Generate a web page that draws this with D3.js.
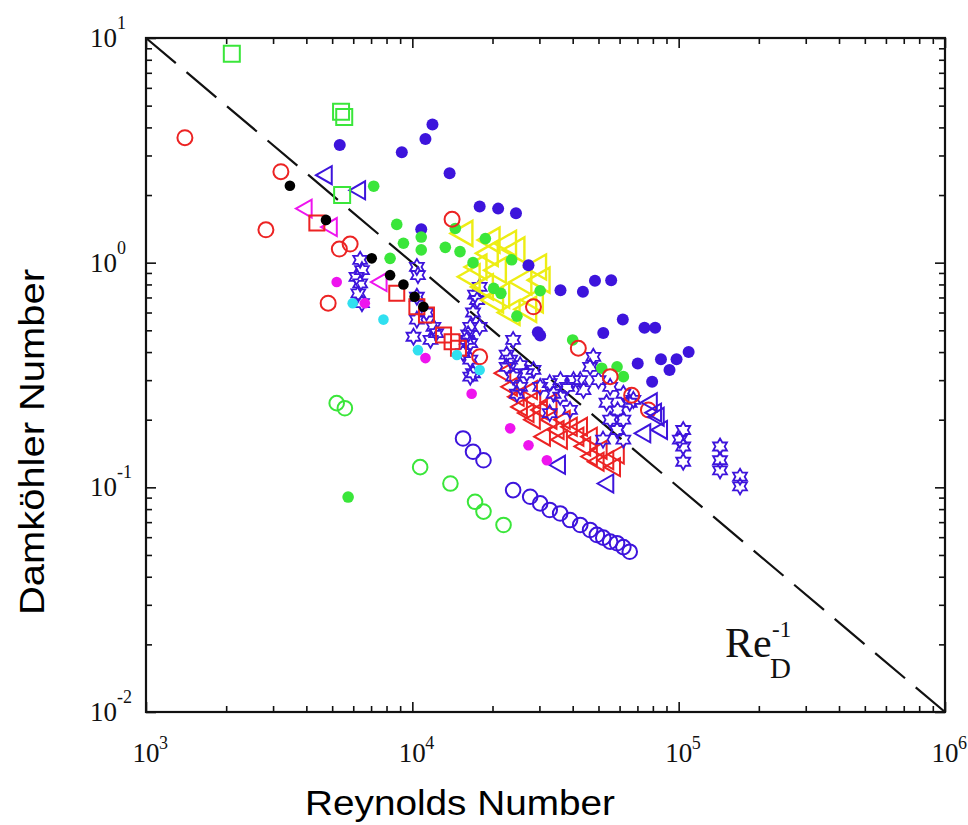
<!DOCTYPE html>
<html lang="en">
<head>
<meta charset="UTF-8">
<title>Damköhler vs Reynolds</title>
<script src="https://d3js.org/d3.v7.min.js"></script>
<style>
    body { margin: 0; background: #fff; }
    svg { display: block; }
    .serif { font-family: "Liberation Serif", "Times New Roman", serif; fill: #111; }
    .sans { font-family: "Liberation Sans", Arial, sans-serif; fill: #000; }
</style>
</head>
<body>
<svg id="chart" width="968" height="825"></svg>
<script>
// [Reynolds, Damkohler] pairs
const greenSquares = [[2100, 8.5], [5400, 4.7], [5550, 4.45], [5450, 2.0]];
const redSquares = [[4380, 1.5], [8740, 0.73], [10400, 0.636], [11300, 0.585], [13100, 0.476], [14100, 0.445], [14900, 0.416]];
const redCircles = [[1400, 3.6], [3210, 2.54], [2820, 1.4], [5320, 1.15], [5840, 1.21], [14100, 1.56], [4830, 0.66],
    [17900, 0.381], [28500, 0.636], [42000, 0.416], [55300, 0.311], [66600, 0.257], [77000, 0.221]];
const blackDots = [[3470, 2.2], [4740, 1.55], [7040, 1.045], [8250, 0.88], [9260, 0.8], [10200, 0.705], [11000, 0.636]];
const magentaTriangles = [[3950, 1.74], [4910, 1.44], [7550, 0.82]];
const blueTriangles = [[4700, 2.45], [6270, 2.1], [35300, 0.126], [53600, 0.104], [78100, 0.239], [82900, 0.206],
    [73800, 0.174], [85300, 0.18], [81000, 0.215]];
const magentaDots = [[5200, 0.82], [6630, 0.66], [11200, 0.376], [16700, 0.261], [23300, 0.183], [27300, 0.154], [32000, 0.132]];
const cyanDots = [[5970, 0.66], [7790, 0.558], [10500, 0.408], [14700, 0.388], [17900, 0.333]];
const greenDots = [[7160, 2.19], [8740, 1.48], [9260, 1.22], [8250, 1.045], [10800, 1.3], [10800, 1.14], [13300, 1.17],
    [15100, 1.12], [14500, 1.42], [18800, 1.28], [23600, 1.03], [16900, 1.0], [20200, 0.768], [21500, 0.73],
    [30200, 0.75], [24700, 0.578], [40000, 0.453], [51400, 0.339], [58700, 0.344], [62000, 0.311], [5740, 0.0905]];
const blueDots = [[5340, 3.34], [9130, 3.1], [11200, 3.55], [11900, 4.12], [13800, 2.5], [10800, 1.41], [17900, 1.78],
    [21000, 1.74], [24500, 1.66], [27300, 0.975], [36000, 0.754], [43700, 0.742], [48500, 0.83], [55800, 0.836],
    [30200, 0.474], [29600, 0.49], [52100, 0.486], [61700, 0.558], [74400, 0.513], [81600, 0.513], [70200, 0.356],
    [85800, 0.372], [98200, 0.372], [109000, 0.4], [92400, 0.333], [79500, 0.295]];
const yellowTriangles = [[15500, 1.35], [17500, 0.957], [19300, 1.1], [22600, 1.22], [24300, 1.14], [20700, 0.926],
    [25800, 0.82], [29300, 0.957], [30200, 0.836], [18500, 0.78], [20200, 0.682], [23300, 0.6], [26900, 0.62],
    [28500, 0.682], [16500, 0.865], [19600, 1.26], [21300, 0.716]];
const blueStars = [[6370, 1.03], [6470, 0.926], [6170, 0.865], [6370, 0.808], [6270, 0.73], [6470, 0.66],
    [10400, 0.957], [10500, 0.88], [10400, 0.705], [10400, 0.558], [11300, 0.6], [12000, 0.518], [11700, 0.453],
    [12300, 0.486], [10100, 0.468],
    [17900, 0.78], [17500, 0.682], [16900, 0.6], [16500, 0.518], [16000, 0.453], [15500, 0.396], [16500, 0.37],
    [16900, 0.322], [17900, 0.518], [16500, 0.438], [16500, 0.311], [17200, 0.72], [16200, 0.48],
    [23900, 0.453], [22600, 0.344], [23900, 0.311], [25400, 0.28], [23300, 0.37], [26900, 0.322], [24700, 0.261],
    [28500, 0.333], [30200, 0.28], [22600, 0.39], [25400, 0.35],
    [33900, 0.261], [38100, 0.28], [42700, 0.3], [46500, 0.344], [47800, 0.381], [32800, 0.291], [40300, 0.3],
    [43900, 0.271], [55300, 0.28], [53600, 0.238], [62000, 0.261], [65500, 0.238], [55300, 0.2], [58700, 0.18],
    [62000, 0.163], [62000, 0.2], [39100, 0.221], [35900, 0.253], [32800, 0.214], [67600, 0.245], [52000, 0.163],
    [36000, 0.3], [50000, 0.3], [59000, 0.22],
    [104000, 0.18], [104000, 0.152], [104000, 0.13], [101000, 0.163], [143000, 0.152], [143000, 0.132],
    [143000, 0.119], [170000, 0.1115], [170000, 0.101]];
const redTriangles = [[22000, 0.322], [24700, 0.253], [25400, 0.228], [26900, 0.214], [28500, 0.245], [30200, 0.221],
    [32800, 0.2], [34900, 0.18], [35900, 0.163], [39100, 0.186], [41400, 0.168], [43900, 0.152], [46500, 0.137],
    [49300, 0.13], [53600, 0.132], [56800, 0.123], [58700, 0.14], [50600, 0.147], [46500, 0.168], [42700, 0.186],
    [32800, 0.238], [27700, 0.271], [31000, 0.168], [36800, 0.2], [28400, 0.2], [23300, 0.28]];
const blueCircles = [[15500, 0.165], [16900, 0.144], [18500, 0.132], [23900, 0.0972], [27700, 0.0908], [30200, 0.0848],
    [32800, 0.0793], [35900, 0.0765], [39100, 0.0715], [42700, 0.068], [46500, 0.0646], [49300, 0.0614],
    [52100, 0.0597], [55300, 0.0573], [58700, 0.0564], [62000, 0.0542], [65500, 0.0517]];
const greenCircles = [[5200, 0.237], [5580, 0.225], [10700, 0.123], [13900, 0.104], [17200, 0.0862], [18500, 0.078], [22000, 0.068]];
const refLine = [[1e3, 10], [1e6, 0.01]];
const xDecades = [3, 4, 5, 6];
const yDecades = [-2, -1, 0, 1];

const svg = d3.select('#chart');
const x = d3.scaleLog().domain([1e3, 1e6]).range([146, 945]);
const y = d3.scaleLog().domain([1e-2, 1e1]).range([712, 38]);

const isMajor = d => Math.abs(Math.log10(d) - Math.round(Math.log10(d))) < 1e-6;

// inward ticks on all four sides
function ticks(axis, tr, major, minor, attr) {
    const g = svg.append('g').attr('transform', tr)
        .call(axis.tickSizeInner(major).tickSizeOuter(0).tickFormat(''));
    g.select('.domain').remove();
    g.selectAll('.tick line').attr(attr, d => isMajor(d) ? major : minor)
        .attr('stroke', '#111').attr('stroke-width', 1.6);
}
ticks(d3.axisBottom(x), 'translate(0,712)', -10, -6, 'y2');
ticks(d3.axisTop(x), 'translate(0,38)', 10, 6, 'y2');
ticks(d3.axisLeft(y), 'translate(146,0)', 10, 6, 'x2');
ticks(d3.axisRight(y), 'translate(945,0)', -10, -6, 'x2');

svg.append('rect').attr('x', 146).attr('y', 38).attr('width', 799).attr('height', 674)
    .attr('fill', 'none').attr('stroke', '#111').attr('stroke-width', 2.2);

// tick labels: 10 with superscript exponent
xDecades.forEach(p => {
    const px = x(Math.pow(10, p));
    svg.append('text').attr('class', 'serif').attr('x', px).attr('y', 762)
        .attr('text-anchor', 'middle').attr('font-size', 27).text('10');
    svg.append('text').attr('class', 'serif').attr('x', px + 13).attr('y', 749)
        .attr('font-size', 18).text(p);
});
yDecades.forEach(p => {
    const py = y(Math.pow(10, p));
    svg.append('text').attr('class', 'serif').attr('x', 117).attr('y', py + 9)
        .attr('text-anchor', 'end').attr('font-size', 27).text('10');
    svg.append('text').attr('class', 'serif').attr('x', 117).attr('y', py - 9)
        .attr('font-size', 18).text(p < 0 ? '-' + (-p) : p);
});

// axis titles
svg.append('text').attr('class', 'sans').attr('x', 305).attr('y', 815)
    .attr('font-size', 35).attr('textLength', 310).attr('lengthAdjust', 'spacingAndGlyphs')
    .text('Reynolds Number');
svg.append('text').attr('class', 'sans').attr('transform', 'translate(44,615) rotate(-90)')
    .attr('font-size', 35).attr('textLength', 346).attr('lengthAdjust', 'spacingAndGlyphs')
    .text('Damköhler Number');

// Re_D^-1 reference line
const line = d3.line().x(d => x(d[0])).y(d => y(d[1]));
svg.append('path').datum(refLine).attr('d', line)
    .attr('fill', 'none').attr('stroke', '#111').attr('stroke-width', 2.2)
    .attr('stroke-dasharray', '39,14');
svg.append('text').attr('class', 'serif').attr('x', 725).attr('y', 657).attr('font-size', 42).text('Re');
svg.append('text').attr('class', 'serif').attr('x', 772).attr('y', 637).attr('font-size', 23).text('-1');
svg.append('text').attr('class', 'serif').attr('x', 770).attr('y', 678).attr('font-size', 29).text('D');

// marker shapes
const leftTri = {
    draw(ctx, size) {
        const r = Math.sqrt(size) / 2;
        ctx.moveTo(-r, 0); ctx.lineTo(r * 0.75, -r); ctx.lineTo(r * 0.75, r); ctx.closePath();
    }
};
const hexagram = {
    draw(ctx, size) {
        const R = Math.sqrt(size) / 2, ri = R / Math.sqrt(3);
        for (let i = 0; i < 12; i++) {
            const a = -Math.PI / 2 + i * Math.PI / 6, rr = i % 2 ? ri : R;
            const px = rr * Math.cos(a), py = rr * Math.sin(a);
            i ? ctx.lineTo(px, py) : ctx.moveTo(px, py);
        }
        ctx.closePath();
    }
};
const square = {
    draw(ctx, size) { const s = Math.sqrt(size) / 2; ctx.rect(-s, -s, 2 * s, 2 * s); }
};

function openSymbols(data, type, size, color, sw) {
    svg.append('g').selectAll('path').data(data).join('path')
        .attr('transform', d => `translate(${x(d[0])},${y(d[1])})`)
        .attr('d', d3.symbol().type(type).size(size))
        .attr('fill', 'none').attr('stroke', color).attr('stroke-width', sw);
}
function openCircles(data, r, color) {
    svg.append('g').selectAll('circle').data(data).join('circle')
        .attr('cx', d => x(d[0])).attr('cy', d => y(d[1])).attr('r', r)
        .attr('fill', 'none').attr('stroke', color).attr('stroke-width', 2);
}
function dots(data, r, color) {
    svg.append('g').selectAll('circle').data(data).join('circle')
        .attr('cx', d => x(d[0])).attr('cy', d => y(d[1])).attr('r', r).attr('fill', color);
}

const BLUE = '#3d14dc', GREEN = '#3ae63a', RED = '#ec2323', YELLOW = '#eded14',
    MAGENTA = '#ee14ee', CYAN = '#30e0f0';

openCircles(blueCircles, 7.3, BLUE);
openCircles(greenCircles, 7.3, GREEN);
openSymbols(redTriangles, leftTri, 18 * 18, RED, 2);
openSymbols(blueStars, hexagram, 16 * 16, BLUE, 1.8);
openSymbols(yellowTriangles, leftTri, 25 * 25, YELLOW, 2.4);
dots(blueDots, 6, BLUE);
dots(greenDots, 5.8, GREEN);
openCircles(redCircles, 7.5, RED);
openSymbols(blueTriangles, leftTri, 18 * 18, BLUE, 2);
openSymbols(magentaTriangles, leftTri, 18 * 18, MAGENTA, 2);
openSymbols(redSquares, square, 15 * 15, RED, 2);
openSymbols(greenSquares, square, 16 * 16, GREEN, 2);
dots(blackDots, 5.3, '#000');
dots(magentaDots, 5.3, MAGENTA);
dots(cyanDots, 5.3, CYAN);
</script>
</body>
</html>
